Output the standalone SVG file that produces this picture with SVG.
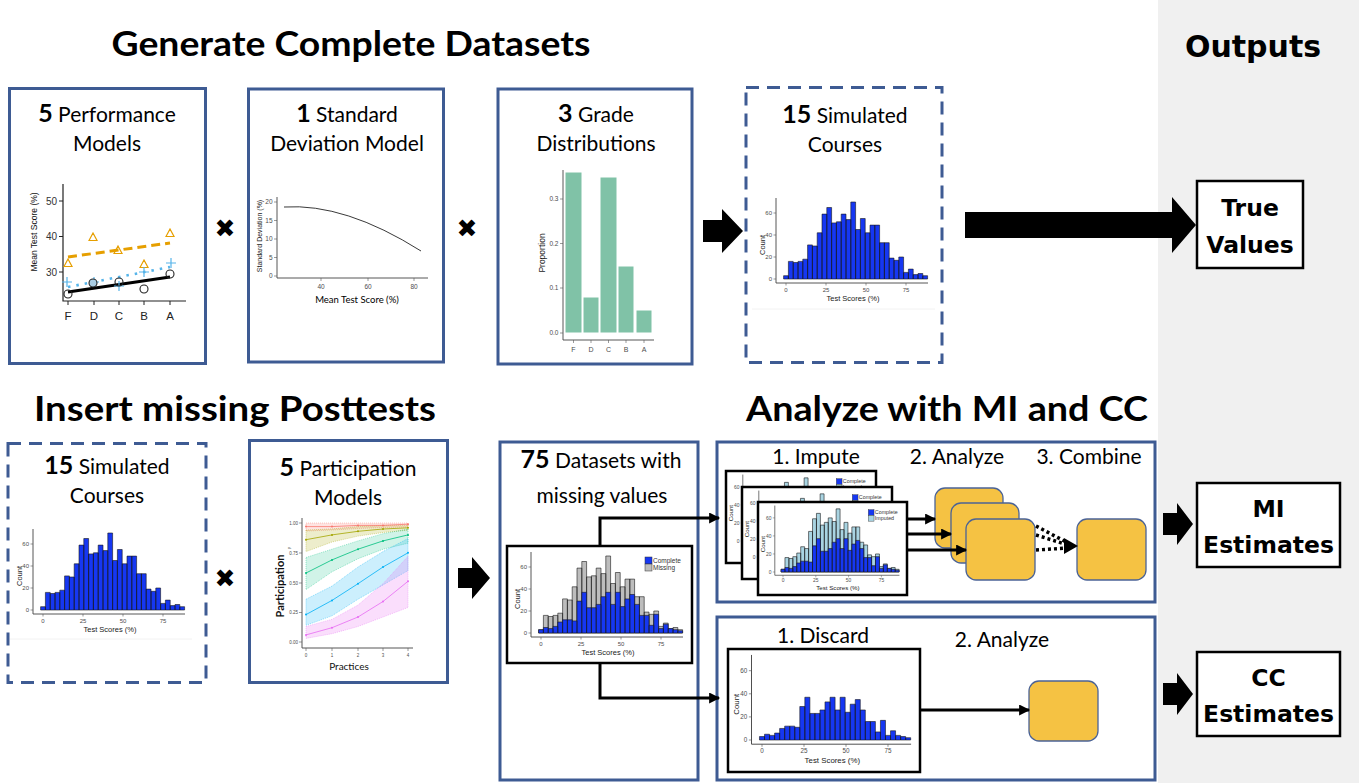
<svg xmlns="http://www.w3.org/2000/svg" width="1359" height="783" viewBox="0 0 1359 783">
<style>
.box{fill:#fff;stroke:#3e5b93;stroke-width:3}
.dbox{fill:#fff;stroke:#3e5b93;stroke-width:3;stroke-dasharray:13 8}
.frame{fill:#fff;stroke:#000;stroke-width:2.5}
.obox{fill:#fff;stroke:#000;stroke-width:2.5}
.hd{font-family:Lato,'Open Sans',sans-serif;font-size:21px;fill:#000;text-anchor:middle}
.num{font-weight:700;font-size:25px}
.title{font-family:Lato,'Open Sans',sans-serif;font-weight:700;font-size:34px;text-anchor:middle;fill:#000}
.out{font-family:'DejaVu Sans',Verdana,sans-serif;font-weight:700;font-size:23.5px;text-anchor:middle;fill:#000}
.step{font-family:Lato,'Open Sans',sans-serif;font-size:21px;text-anchor:middle;fill:#000}
.tk{font-family:'Liberation Sans',Arial,sans-serif;font-size:6px;fill:#4d4d4d}
.ax{font-family:'Liberation Sans',Arial,sans-serif;font-size:7.5px;fill:#1a1a1a}
.al{fill:none;stroke:#444;stroke-width:0.9}
.tm{fill:none;stroke:#555;stroke-width:0.6}
.yb{fill:#f5c243;stroke:#4b6396;stroke-width:1.3}
.conn{fill:none;stroke:#000;stroke-width:3}
.dot{fill:none;stroke:#000;stroke-width:3.5;stroke-dasharray:3 3}
.blk{fill:#000}
.band{stroke-width:0.4;stroke-dasharray:1 1}
</style>
<defs>
<marker id="ah" viewBox="0 0 10 10" refX="9" refY="5" markerWidth="12" markerHeight="11" markerUnits="userSpaceOnUse" orient="auto"><path d="M0 0L10 5L0 10z" fill="#000"/></marker>
<path id="hT" vector-effect="non-scaling-stroke" stroke-width="0.6" d="M-1.5 0v3h3v-3zM1.5 0v16h3v-16zM4.5 0v15h3v-15zM7.5 0v16h3v-16zM10.5 0v18h3v-18zM13.5 0v31h3v-31zM16.5 0v30h3v-30zM19.5 0v42h3v-42zM22.5 0v59h3v-59zM25.5 0v65h3v-65zM28.5 0v51h3v-51zM31.5 0v52h3v-52zM34.5 0v59h3v-59zM37.5 0v54h3v-54zM40.5 0v70h3v-70zM43.5 0v45h3v-45zM46.5 0v55h3v-55zM49.5 0v42h3v-42zM52.5 0v49h3v-49zM55.5 0v49h3v-49zM58.5 0v33h3v-33zM61.5 0v33h3v-33zM64.5 0v19h3v-19zM67.5 0v17h3v-17zM70.5 0v20h3v-20zM73.5 0v6h3v-6zM76.5 0v9h3v-9zM79.5 0v4h3v-4zM82.5 0v5h3v-5zM85.5 0v3h3v-3z"/>
<path id="hC" vector-effect="non-scaling-stroke" stroke-width="0.6" d="M-1.5 0v3h3v-3zM1.5 0v5h3v-5zM4.5 0v4h3v-4zM7.5 0v6h3v-6zM10.5 0v10h3v-10zM13.5 0v12h3v-12zM16.5 0v12h3v-12zM19.5 0v11h3v-11zM22.5 0v29h3v-29zM25.5 0v37h3v-37zM28.5 0v23h3v-23zM31.5 0v23h3v-23zM34.5 0v26h3v-26zM37.5 0v33h3v-33zM40.5 0v37h3v-37zM43.5 0v26h3v-26zM46.5 0v37h3v-37zM49.5 0v24h3v-24zM52.5 0v31h3v-31zM55.5 0v35h3v-35zM58.5 0v26h3v-26zM61.5 0v16h3v-16zM64.5 0v16h3v-16zM67.5 0v7h3v-7zM70.5 0v17h3v-17zM73.5 0v4h3v-4zM76.5 0v8h3v-8zM79.5 0v4h3v-4zM82.5 0v3h3v-3zM85.5 0v2h3v-2z"/>
<path id="hI" vector-effect="non-scaling-stroke" stroke-width="0.6" d="M-1.5 0v3h3v-3zM1.5 0v16h3v-16zM4.5 0v15h3v-15zM7.5 0v17h3v-17zM10.5 0v21h3v-21zM13.5 0v28h3v-28zM16.5 0v26h3v-26zM19.5 0v45h3v-45zM22.5 0v59h3v-59zM25.5 0v65h3v-65zM28.5 0v52h3v-52zM31.5 0v55h3v-55zM34.5 0v60h3v-60zM37.5 0v56h3v-56zM40.5 0v70h3v-70zM43.5 0v47h3v-47zM46.5 0v55h3v-55zM49.5 0v43h3v-43zM52.5 0v50h3v-50zM55.5 0v50h3v-50zM58.5 0v33h3v-33zM61.5 0v30h3v-30zM64.5 0v19h3v-19zM67.5 0v17h3v-17zM70.5 0v20h3v-20zM73.5 0v6h3v-6zM76.5 0v9h3v-9zM79.5 0v4h3v-4zM82.5 0v5h3v-5zM85.5 0v3h3v-3z"/>
<g id="axes">
<path class="al" d="M-10 -81V4H142"/>
<path class="tm" d="M-12.5 0H-10M-12.5 -22H-10M-12.5 -44H-10M-12.5 -66H-10M0 4V6.5M40 4V6.5M80 4V6.5M120 4V6.5"/>
<g class="tk" text-anchor="end"><text x="-14" y="2">0</text><text x="-14" y="-20">20</text><text x="-14" y="-42">40</text><text x="-14" y="-64">60</text></g>
<g class="tk" text-anchor="middle"><text x="0" y="12.5">0</text><text x="40" y="12.5">25</text><text x="80" y="12.5">50</text><text x="120" y="12.5">75</text></g>
<text class="ax" x="67" y="22" text-anchor="middle">Test Scores (%)</text>
<text class="ax" transform="translate(-21.5,-34) rotate(-90)" text-anchor="middle">Count</text>
</g>
<g id="simChart">
<use href="#hT" transform="scale(1.6,-1.1)" fill="#1637f2" stroke="#1a1a1a"/>
<use href="#axes"/>
</g>
<g id="impChart">
<use href="#hI" transform="scale(1.6,-1.1)" fill="#a9d4e2" stroke="#1a1a1a"/>
<use href="#hC" transform="scale(1.6,-1.1)" fill="#1637f2" stroke="#1a1a1a"/>
<use href="#axes"/>
<rect x="104" y="-76" width="7" height="7" fill="#1637f2" stroke="#333" stroke-width="0.5"/>
<rect x="104" y="-69" width="7" height="7" fill="#a9d4e2" stroke="#333" stroke-width="0.5"/>
<text class="tk" x="112" y="-70.5" style="font-size:6.5px;fill:#333">Complete</text>
<text class="tk" x="112" y="-63.5" style="font-size:6.5px;fill:#333">Imputed</text>
</g>
</defs>

<rect id="outputs-panel" x="1158" y="0" width="201" height="783" fill="#f0f0f0"/>

<g id="titles">
<text class="title" x="351" y="56" textLength="479" lengthAdjust="spacingAndGlyphs">Generate Complete Datasets</text>
<text class="out" x="1253" y="57" style="font-size:30px">Outputs</text>
<text class="title" x="235" y="421" textLength="402" lengthAdjust="spacingAndGlyphs">Insert missing Posttests</text>
<text class="title" x="947" y="421" textLength="402" lengthAdjust="spacingAndGlyphs">Analyze with MI and CC</text>
</g>

<g id="performance-models">
<rect class="box" x="9.5" y="88.5" width="196" height="275"/>
<text class="hd" x="107" y="122"><tspan class="num">5</tspan> Performance</text>
<text class="hd" x="107" y="151">Models</text>
<path d="M63 184V301H186" fill="none" stroke="#222" stroke-width="1.2"/>
<path d="M59 201H63M59 236.5H63M59 272H63M68 301V305M94 301V305M119 301V305M144 301V305M170 301V305" stroke="#222" stroke-width="1"/>
<g font-family="'Liberation Sans',Arial,sans-serif" font-size="10" fill="#333" text-anchor="end"><text x="57" y="205">50</text><text x="57" y="240">40</text><text x="57" y="276">30</text></g>
<g font-family="'Liberation Sans',Arial,sans-serif" font-size="11.5" fill="#222" text-anchor="middle"><text x="68" y="320">F</text><text x="94" y="320">D</text><text x="119" y="320">C</text><text x="144" y="320">B</text><text x="170" y="320">A</text></g>
<text font-family="'Liberation Sans',Arial,sans-serif" font-size="8.5" fill="#111" text-anchor="middle" transform="translate(37,232) rotate(-90)">Mean Test Score (%)</text>
<path d="M68 257L170 243" stroke="#e69f00" stroke-width="3" stroke-dasharray="9 5"/>
<path d="M68 287L170 267" stroke="#56b4e9" stroke-width="2.6" stroke-dasharray="2.5 6"/>
<path d="M68 292L170 277" stroke="#000" stroke-width="3"/>
<path d="M64 266.5L68 259L72 266.5ZM89 240.5L93 233L97 240.5ZM114 253.5L118 246L122 253.5ZM140 267.5L144 260L148 267.5ZM166 236.5L170 229L174 236.5Z" fill="none" stroke="#e69f00" stroke-width="1.2"/>
<path d="M62 282H72M67 277V287M89 282H99M94 277V287M114 286H124M119 281V291M139 272H149M144 267V277M166 263H176M171 258V268" stroke="#56b4e9" stroke-width="1.2"/>
<circle cx="93" cy="283" r="4" fill="#a9cce3"/>
<g fill="none" stroke="#222" stroke-width="1.1"><circle cx="68" cy="294" r="4"/><circle cx="93" cy="283" r="4"/><circle cx="119" cy="282" r="4"/><circle cx="144" cy="289" r="4"/><circle cx="170" cy="274" r="4"/></g>
</g>

<g id="sd-model">
<rect class="box" x="248.5" y="89" width="195" height="273"/>
<text class="hd" x="347" y="122"><tspan class="num">1</tspan> Standard</text>
<text class="hd" x="347" y="151">Deviation Model</text>
<path class="al" d="M277 197V278H428"/>
<path class="tm" d="M274 202H277M274 220.5H277M274 239H277M274 257.5H277M274 276H277M321 278V281M368 278V281M414 278V281"/>
<g class="tk" style="font-size:6.5px" text-anchor="end"><text x="272.5" y="204.2">20</text><text x="272.5" y="222.7">15</text><text x="272.5" y="241.2">10</text><text x="272.5" y="259.7">5</text><text x="272.5" y="278.2">0</text></g>
<g class="tk" style="font-size:6.5px" text-anchor="middle"><text x="321" y="288.5">40</text><text x="368" y="288.5">60</text><text x="414" y="288.5">80</text></g>
<text class="ax" style="font-size:7px" text-anchor="middle" transform="translate(262,236) rotate(-90)">Standard Deviation (%)</text>
<path d="M284 207Q345 203 421 251" fill="none" stroke="#222" stroke-width="0.9"/>
<text x="357" y="303" font-family="Lato,'Open Sans',sans-serif" font-size="9.5" text-anchor="middle" fill="#000">Mean Test Score (%)</text>
</g>

<g id="grade-distributions">
<rect class="box" x="498" y="89" width="194" height="275"/>
<text class="hd" x="596" y="122"><tspan class="num">3</tspan> Grade</text>
<text class="hd" x="596" y="151">Distributions</text>
<g fill="#80c2a7" stroke="#fff" stroke-width="1"><rect x="565" y="172" width="17" height="161"/><rect x="583" y="297" width="16" height="36"/><rect x="600" y="177" width="17" height="156"/><rect x="618" y="266" width="16" height="67"/><rect x="636" y="310" width="16" height="23"/></g>
<path class="al" d="M563 170V340H654"/>
<path class="tm" d="M560 199H563M560 243.5H563M560 288H563M560 333H563M573.5 340V343M591 340V343M608.5 340V343M626 340V343M644 340V343"/>
<g class="tk" style="font-size:6.5px" text-anchor="end"><text x="558.5" y="201.2">0.3</text><text x="558.5" y="245.7">0.2</text><text x="558.5" y="290.2">0.1</text><text x="558.5" y="335.2">0.0</text></g>
<g class="tk" style="font-size:7px" text-anchor="middle"><text x="573.5" y="351.5">F</text><text x="591" y="351.5">D</text><text x="608.5" y="351.5">C</text><text x="626" y="351.5">B</text><text x="644" y="351.5">A</text></g>
<text class="ax" style="font-size:8.5px" text-anchor="middle" transform="translate(545,253) rotate(-90)">Proportion</text>
</g>

<g id="simulated-courses-top">
<rect class="dbox" x="746" y="87.5" width="196" height="275"/>
<text class="hd" x="845" y="123"><tspan class="num">15</tspan> Simulated</text>
<text class="hd" x="845" y="152">Courses</text>
<use href="#simChart" transform="translate(786,279)"/>
<path d="M752 309H935" stroke="#f2f2f2" stroke-width="1"/>
</g>

<g id="simulated-courses-bottom">
<rect class="dbox" x="8" y="443.5" width="198" height="239"/>
<text class="hd" x="107" y="474"><tspan class="num">15</tspan> Simulated</text>
<text class="hd" x="107" y="503">Courses</text>
<use href="#simChart" transform="translate(43,610)"/>
<path d="M10 639H192" stroke="#f2f2f2" stroke-width="1"/>
</g>

<g id="participation-models">
<rect class="box" x="249.5" y="440.5" width="198" height="242"/>
<text class="hd" x="348" y="476"><tspan class="num">5</tspan> Participation</text>
<text class="hd" x="348" y="505">Models</text>
<path class="band" d="M306 523L332 523L358 523L383 523L408 523L408 527L383 527.5L358 528.5L332 530L306 531Z" fill="#f8766d" fill-opacity="0.2" stroke="#f8766d"/>
<path class="band" d="M306 530.1L332 528.9L358 526.6L383 525.4L408 525.4L408 530.2L383 532.5L358 536.1L332 542L306 551.6Z" fill="#a3a500" fill-opacity="0.2" stroke="#a3a500"/>
<path class="band" d="M306 557.5L332 549.2L358 540.9L383 533.7L408 529L408 543.2L383 549.2L358 558.7L332 571.8L306 589.6Z" fill="#00bf7d" fill-opacity="0.18" stroke="#00bf7d"/>
<path class="band" d="M306 599.2L332 586.1L358 567L383 551.6L408 538.5L408 570.6L383 584.9L358 599.2L332 615.8L306 625.3Z" fill="#00b0f6" fill-opacity="0.2" stroke="#00b0f6"/>
<path class="band" d="M306 626.5L332 619.4L358 605.1L383 583.7L408 556.3L408 607.5L383 617L358 626.5L332 633.7L306 638.4Z" fill="#e76bf3" fill-opacity="0.22" stroke="#e76bf3"/>
<g fill="none" stroke-width="0.8">
<polyline points="306,526.6 332,526.6 358,525.4 383,525.4 408,524.2" stroke="#f8766d"/>
<polyline points="306,539.7 332,534.9 358,531.3 383,529 408,527.8" stroke="#a3a500"/>
<polyline points="306,573 332,559.9 358,549.2 383,540.9 408,534.9" stroke="#00bf7d"/>
<polyline points="306,614.6 332,600.4 358,583.7 383,567 408,552.8" stroke="#00b0f6"/>
<polyline points="306,634.9 332,627.7 358,617 383,601.5 408,581.3" stroke="#e76bf3"/>
</g>
<g fill="#f8766d"><circle cx="306" cy="526.6" r="1"/><circle cx="332" cy="526.6" r="1"/><circle cx="358" cy="525.4" r="1"/><circle cx="383" cy="525.4" r="1"/><circle cx="408" cy="524.2" r="1"/></g>
<g fill="#a3a500"><circle cx="306" cy="539.7" r="1"/><circle cx="332" cy="534.9" r="1"/><circle cx="358" cy="531.3" r="1"/><circle cx="383" cy="529" r="1"/><circle cx="408" cy="527.8" r="1"/></g>
<g fill="#00bf7d"><circle cx="306" cy="573" r="1"/><circle cx="332" cy="559.9" r="1"/><circle cx="358" cy="549.2" r="1"/><circle cx="383" cy="540.9" r="1"/><circle cx="408" cy="534.9" r="1"/></g>
<g fill="#00b0f6"><circle cx="306" cy="614.6" r="1"/><circle cx="332" cy="600.4" r="1"/><circle cx="358" cy="583.7" r="1"/><circle cx="383" cy="567" r="1"/><circle cx="408" cy="552.8" r="1"/></g>
<g fill="#e76bf3"><circle cx="306" cy="634.9" r="1"/><circle cx="332" cy="627.7" r="1"/><circle cx="358" cy="617" r="1"/><circle cx="383" cy="601.5" r="1"/><circle cx="408" cy="581.3" r="1"/></g>
<path class="al" stroke-width="0.8" d="M302 518V648H413"/>
<path class="tm" d="M299 523H302M299 553H302M299 583H302M299 612.5H302M299 642H302M306 648V651M332 648V651M358 648V651M383 648V651M408 648V651"/>
<g class="tk" style="font-size:4.5px" text-anchor="end"><text x="298" y="524.5">1.00</text><text x="298" y="554.5">0.75</text><text x="298" y="584.5">0.50</text><text x="298" y="614">0.25</text><text x="298" y="643.5">0.00</text></g>
<g class="tk" style="font-size:4.5px" text-anchor="middle"><text x="306" y="656.5">0</text><text x="332" y="656.5">1</text><text x="358" y="656.5">2</text><text x="383" y="656.5">3</text><text x="408" y="656.5">4</text></g>
<text class="tk" style="font-size:4px" text-anchor="middle" transform="translate(290,548) rotate(-90)">y</text>
<text font-family="Lato,'Open Sans',sans-serif" font-size="11" font-weight="700" fill="#111" text-anchor="middle" transform="translate(284,586) rotate(-90)">Participation</text>
<text x="349" y="670" font-family="Lato,'Open Sans',sans-serif" font-size="10" fill="#111" text-anchor="middle">Practices</text>
</g>

<g id="datasets-missing">
<rect class="box" x="500" y="442" width="198" height="338"/>
<text class="hd" x="601" y="468"><tspan class="num">75</tspan> Datasets with</text>
<text class="hd" x="602" y="503">missing values</text>
<rect class="frame" x="507" y="546" width="185" height="117"/>
<g transform="translate(541,633)">
<use href="#hT" transform="scale(1.6,-1.1)" fill="#bdbdbd" stroke="#1a1a1a"/>
<use href="#hC" transform="scale(1.6,-1.1)" fill="#1637f2" stroke="#1a1a1a"/>
<use href="#axes"/>
<rect x="104" y="-76" width="7" height="7" fill="#1637f2" stroke="#333" stroke-width="0.5"/>
<rect x="104" y="-69" width="7" height="7" fill="#bdbdbd" stroke="#333" stroke-width="0.5"/>
<text class="tk" x="112" y="-70.5" style="font-size:6.5px;fill:#333">Complete</text>
<text class="tk" x="112" y="-63.5" style="font-size:6.5px;fill:#333">Missing</text>
</g>
</g>

<g id="mi-analysis">
<rect class="box" x="717" y="442" width="438" height="160"/>
<text class="step" x="816" y="464">1. Impute</text>
<text class="step" x="957" y="464">2. Analyze</text>
<text class="step" x="1089" y="464">3. Combine</text>
<rect class="frame" x="726" y="471" width="150" height="92"/>
<use href="#impChart" transform="translate(751,541) scale(0.82)"/>
<rect class="frame" x="742" y="487" width="150" height="92"/>
<use href="#impChart" transform="translate(767,557) scale(0.82)"/>
<rect class="frame" x="758" y="502" width="149" height="93"/>
<use href="#impChart" transform="translate(783,572) scale(0.82)"/>
<rect class="yb" x="935" y="488" width="68" height="60" rx="10"/>
<rect class="yb" x="951" y="503" width="68" height="60" rx="10"/>
<rect class="yb" x="966" y="519" width="69" height="61" rx="10"/>
<rect class="yb" x="1077" y="519" width="69" height="61" rx="10"/>
</g>

<g id="cc-analysis">
<rect class="box" x="717" y="617" width="438" height="163"/>
<text class="step" x="823" y="643">1. Discard</text>
<text class="step" x="1002" y="647">2. Analyze</text>
<rect class="frame" x="728" y="649" width="192" height="123"/>
<g transform="translate(762,740) scale(1.05)">
<use href="#hC" transform="scale(1.6,-1.1)" fill="#1637f2" stroke="#1a1a1a"/>
<use href="#axes"/>
</g>
<rect class="yb" x="1029" y="681" width="69" height="60" rx="10"/>
</g>

<g id="true-values">
<rect class="obox" x="1197" y="181" width="106" height="87"/>
<text class="out" x="1250" y="216">True</text>
<text class="out" x="1250" y="253">Values</text>
</g>
<g id="mi-estimates">
<rect class="obox" x="1197" y="483" width="143" height="84"/>
<text class="out" x="1268.5" y="517">MI</text>
<text class="out" x="1268.5" y="553">Estimates</text>
</g>
<g id="cc-estimates">
<rect class="obox" x="1197" y="652" width="143" height="84"/>
<text class="out" x="1268.5" y="686">CC</text>
<text class="out" x="1268.5" y="722">Estimates</text>
</g>

<g id="operators" font-family="'DejaVu Sans',sans-serif" font-size="25" text-anchor="middle" fill="#000">
<text x="225" y="237">✖</text>
<text x="467" y="237">✖</text>
<text x="225" y="587">✖</text>
</g>

<g id="connectors">
<polygon class="blk" points="703,220 722,220 722,209 743,231 722,253 722,242 703,242"/>
<polygon class="blk" points="458,568 472,568 472,557 490,578 472,599 472,588 458,588"/>
<polygon class="blk" points="965,212 1172,212 1172,197 1196,225 1172,253 1172,238 965,238"/>
<polygon class="blk" points="1163,513 1177,513 1177,503 1193,524 1177,545 1177,535 1163,535"/>
<polygon class="blk" points="1163,683 1177,683 1177,673 1193,694 1177,715 1177,705 1163,705"/>
<path class="conn" d="M600 546V518H719" marker-end="url(#ah)"/>
<path class="conn" d="M600 663V698H719" marker-end="url(#ah)"/>
<path class="conn" d="M907 519H935" marker-end="url(#ah)"/>
<path class="conn" d="M907 534H951" marker-end="url(#ah)"/>
<path class="conn" d="M907 550H966" marker-end="url(#ah)"/>
<path class="dot" d="M1036 526L1068 543"/>
<path class="dot" d="M1036 535L1068 545"/>
<path class="dot" d="M1036 550L1068 548"/>
<polygon class="blk" points="1064,538 1078,546 1064,554"/>
<path class="conn" d="M920 710H1029" marker-end="url(#ah)"/>
</g>
</svg>
